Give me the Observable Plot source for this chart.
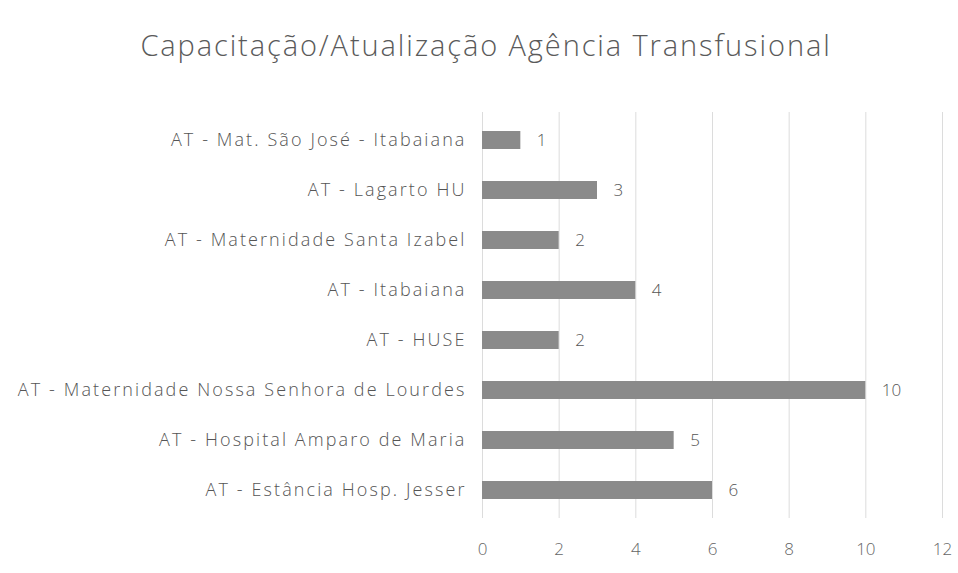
<!DOCTYPE html>
<html>
<head>
<meta charset="utf-8">
<script src="https://cdn.jsdelivr.net/npm/d3@7"></script>
<script src="https://cdn.jsdelivr.net/npm/@observablehq/plot@0.6"></script>
<style>
  html, body { margin: 0; padding: 0; background: #ffffff; }
  #title { height: 80px; width: 958px; box-sizing: border-box; padding-top: 25px; padding-left: 14px; text-align: center;
    font-family: "Open Sans", sans-serif; font-size: 29px; color: #5a5a5a; font-weight: 300; letter-spacing: 1.9px; white-space: nowrap; }
  #chart svg { display: block; }
  .ylab text { letter-spacing: 2.1px; }
</style>
</head>
<body>
<div id="title">Capacitação/Atualização Agência Transfusional</div>
<div id="chart"></div>
<script>
const categories = [
  "AT - Mat. São José - Itabaiana",
  "AT - Lagarto HU",
  "AT - Maternidade Santa Izabel",
  "AT - Itabaiana",
  "AT - HUSE",
  "AT - Maternidade Nossa Senhora de Lourdes",
  "AT - Hospital Amparo de Maria",
  "AT - Estância Hosp. Jesser"
];
const values = [1, 3, 2, 4, 2, 10, 5, 6];
const xTicks = [0, 2, 4, 6, 8, 10, 12];

const data = categories.map((c, i) => ({category: c, value: values[i]}));

const chart = Plot.plot({
  width: 958,
  height: 493,
  marginLeft: 482,
  marginRight: 16,
  marginTop: 32,
  marginBottom: 55,
  style: {fontFamily: "'Open Sans', sans-serif", fontSize: "16px", color: "#555", background: "#ffffff"},
  x: {domain: [0, 12], ticks: xTicks, label: null},
  y: {domain: categories, label: null, paddingInner: 0.64, paddingOuter: 0.32},
  marks: [
    Plot.gridX(xTicks, {stroke: "#dcdcdc", strokeOpacity: 1}),
    Plot.barX(data, {x: "value", y: "category", fill: "#8a8a8a"}),
    Plot.text(data, {x: "value", y: "category", text: d => String(d.value), textAnchor: "start", dx: 16, fill: "#555", fontSize: 17, fontWeight: 300}),
    Plot.axisX({ticks: xTicks, tickSize: 0, tickPadding: 24, fontSize: 17, fill: "#666", fontWeight: 300}),
    Plot.axisY({tickSize: 0, tickPadding: 16, fontSize: 18, fill: "#555", fontWeight: 300, className: "ylab"})
  ]
});
document.getElementById("chart").appendChild(chart);
</script>
</body>
</html>
